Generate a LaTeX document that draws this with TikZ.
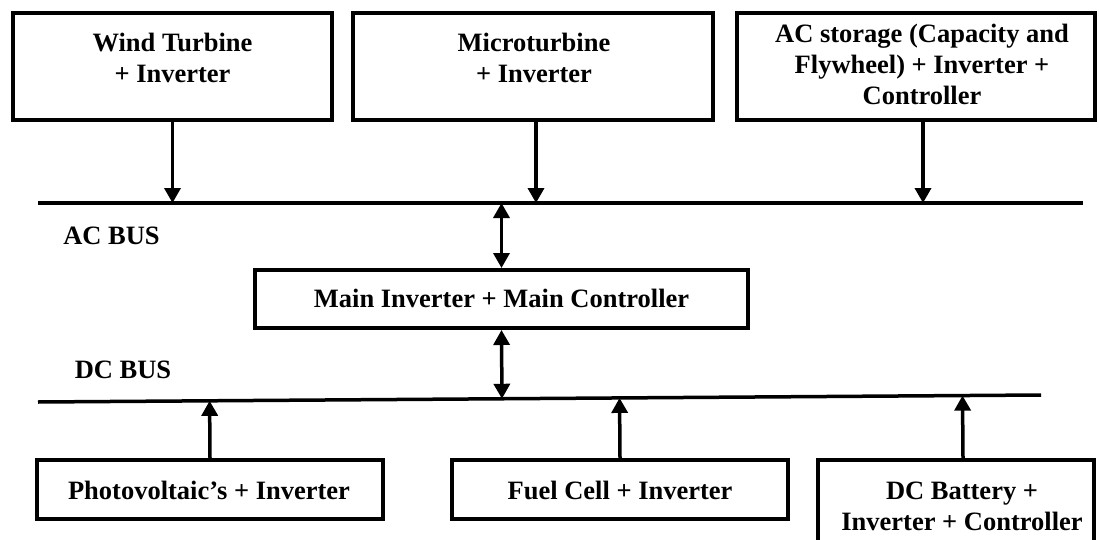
\documentclass[tikz,border=0pt]{standalone}
\usepackage{fontspec}
\setmainfont{Liberation Serif}
\usetikzlibrary{arrows.meta,calc}
\begin{document}
\begin{tikzpicture}[x=1pt,y=-1pt,
 box/.style={draw, line width=4pt, inner sep=0pt},
 lbl/.style={font=\bfseries\fontsize{26.5}{31}\selectfont, align=center, inner sep=0pt},
 one/.style={lbl, text height=18pt, text depth=0pt},
 bus/.style={line width=3.5pt},
 arr/.style={line width=3.5pt, -{Triangle[width=16pt,length=15pt]}},
 darr/.style={line width=3.5pt, {Triangle[width=16pt,length=15pt]}-{Triangle[width=16pt,length=15pt]}}]
\useasboundingbox (0,0) rectangle (1099,540);
\clip (0,0) rectangle (1099,540);
% boxes
\node[box, minimum width=319pt, minimum height=107pt] (wind) at (172.5,66.5) {};
\node[box, minimum width=360pt, minimum height=107pt] (micro) at (533,66.5) {};
\node[box, minimum width=358pt, minimum height=107pt] (acst) at (916,66.5) {};
\node[box, minimum width=493pt, minimum height=58pt] (main) at (501.5,299) {};
\node[box, minimum width=346pt, minimum height=59pt] (pv) at (210,489.5) {};
\node[box, minimum width=336pt, minimum height=59pt] (fuel) at (620,489.5) {};
\node[box, minimum width=276pt, minimum height=120pt] (batt) at (956,520) {};
% labels
\node[lbl] (windT) at (172.5,57.5) {Wind Turbine\\+ Inverter};
\node[lbl] (microT) at (534,57.5) {Microturbine\\+ Inverter};
\node[lbl] (acstT) at (922,64) {AC storage (Capacity and\\Flywheel) + Inverter +\\Controller};
\node[one] (mainT) at (501.5,298) {Main Inverter + Main Controller};
\node[one] (pvT) at (209,490) {Photovoltaic’s + Inverter};
\node[one] (fuelT) at (620,490) {Fuel Cell + Inverter};
\node[lbl] (battT) at (962,506.5) {DC Battery +\\Inverter + Controller};
\node[one] (acbus) at (111.5,235) {AC BUS};
\node[one] (dcbus) at (123,369) {DC BUS};
% buses
\coordinate (acL) at (38,203);
\coordinate (acR) at (1083,203);
\coordinate (dcL) at (38,402);
\coordinate (dcR) at (1041,395);
\draw[bus] (acL) -- (acR);
\draw[bus] (dcL) -- (dcR);
% connectors
\coordinate (microA) at ($(micro.south)+(3,0)$);
\coordinate (acstA) at ($(acst.south)+(7,0)$);
\coordinate (battA) at ($(batt.north)+(7,0)$);
\draw[arr] (wind.south) -- (wind.south |- acL);
\draw[arr] (microA) -- (microA |- acL);
\draw[arr] (acstA) -- (acstA |- acL);
\draw[darr] (main.north |- acL) -- (main.north);
\draw[darr] (main.south) -- ($(dcL)!(main.south)!(dcR)$);
\draw[arr] (pv.north) -- ($(dcL)!(pv.north)!(dcR)$);
\draw[arr] (fuel.north) -- ($(dcL)!(fuel.north)!(dcR)$);
\draw[arr] (battA) -- ($(dcL)!(battA)!(dcR)$);
\end{tikzpicture}
\end{document}
